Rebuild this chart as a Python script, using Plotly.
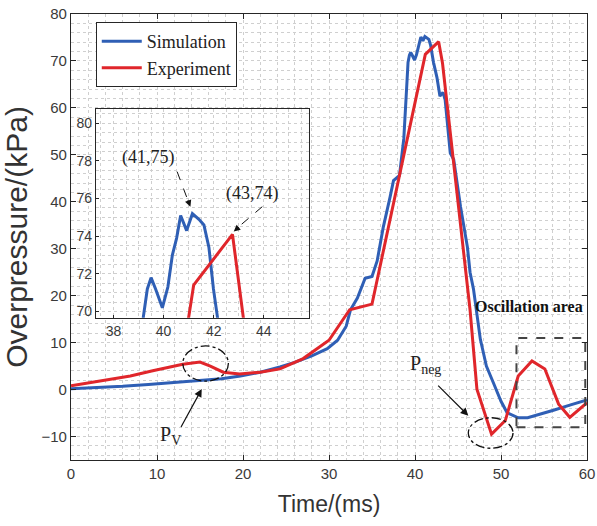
import plotly.graph_objects as go

# ---------------- data ----------------
sim_t = [0, 3, 6, 9, 12, 15.3, 17.5, 19.7, 22, 24.3, 26, 28, 29.8, 31, 32, 32.5, 33.3,
         34.2, 35, 35.6, 36.3, 37.1, 37.5, 38.2, 38.7, 39.05, 39.19, 39.35, 39.5, 39.68,
         39.95, 40.17, 40.35, 40.52, 40.68, 40.92, 41.15, 41.41, 41.61, 41.81, 41.99,
         42.15, 42.55, 42.9, 43.25, 43.5, 44.1, 44.5, 45.3, 46.1, 46.4, 46.8, 47.6, 48.3,
         49.1, 50, 50.7, 52, 53.1, 54.5, 56.1, 58, 60]
sim_p = [0.2, 0.4, 0.7, 1.1, 1.5, 1.9, 2.3, 2.9, 3.7, 4.8, 5.8, 7.2, 8.7, 10.5, 13.5, 17,
         19.5, 23.7, 24.1, 27.4, 34.5, 41, 44.5, 45.6, 53.5, 65, 69.7, 71.2, 71.8, 71.2,
         70.2, 71.3, 73, 73.9, 75.1, 74.3, 75.2, 74.9, 74.6, 73.4, 71.2, 69.7, 66.5, 62.5,
         63.3, 61.8, 50.4, 49, 38.9, 30.3, 25, 21.4, 10.7, 5, 1.5, -2.5, -4.9, -6, -6,
         -5.3, -4.4, -3.3, -2.2]

exp_t = [0, 3, 6.9, 9.5, 13.0, 15.0, 16.2, 17.7, 19.6, 22, 24.3, 27, 30, 32.4, 35.0,
         41.2, 42.75, 43.2, 46.4, 47.2, 48.9, 50.5, 52.0, 53.6, 55.1, 56.7, 58.0, 60]
exp_p = [0.8, 1.7, 2.9, 4.0, 5.4, 5.85, 5.0, 3.7, 3.3, 3.7, 4.4, 6.6, 10.5, 17.0, 18.2,
         71.4, 74.1, 69.5, 17, 0.1, -9.5, -6.6, 2.9, 6.1, 4.4, -3.1, -5.9, -2.8]

x_ticks = [0, 10, 20, 30, 40, 50, 60]
y_ticks = [-10, 0, 10, 20, 30, 40, 50, 60, 70, 80]
inset_x_ticks = [38, 40, 42, 44]
inset_y_ticks = [70, 72, 74, 76, 78, 80]

BLUE = "#2f5fb5"
RED = "#e0262b"
AX = "#262626"
GRID = "#cfcfcf"
SANS = "Liberation Sans, Arial, sans-serif"
SERIF = "Liberation Serif, Times New Roman, serif"

fig = go.Figure()
fig.add_trace(go.Scatter(x=sim_t, y=sim_p, mode="lines", name="Simulation",
                         line=dict(color=BLUE, width=3)))
fig.add_trace(go.Scatter(x=exp_t, y=exp_p, mode="lines", name="Experiment",
                         line=dict(color=RED, width=3)))
# inset copies
fig.add_trace(go.Scatter(x=sim_t, y=sim_p, mode="lines", showlegend=False,
                         line=dict(color=BLUE, width=3), xaxis="x2", yaxis="y2"))
fig.add_trace(go.Scatter(x=exp_t, y=exp_p, mode="lines", showlegend=False,
                         line=dict(color=RED, width=3), xaxis="x2", yaxis="y2"))

axis_common = dict(showline=True, linecolor=AX, linewidth=1.3, mirror="ticks",
                   ticks="inside", ticklen=5, tickcolor=AX, showgrid=True,
                   gridcolor=GRID, griddash="dot", gridwidth=1, zeroline=False,
                   automargin=False,
                   tickfont=dict(family=SANS, size=15, color="#3a3a3a"))

inset_common = dict(showline=True, linecolor=AX, linewidth=1.3, mirror=True,
                    ticks="inside", ticklen=3, tickcolor=AX, showgrid=False, zeroline=False,
                    automargin=False,
                    minor=dict(dtick=0.5, showgrid=True, gridcolor=GRID, griddash="dot", ticks=""),
                    tickfont=dict(family=SANS, size=14, color="#3a3a3a"))

fig.update_layout(
    width=597, height=526,
    margin=dict(l=71, r=10, t=14, b=66),
    paper_bgcolor="white", plot_bgcolor="white",
    xaxis=dict(range=[0, 60], tickvals=x_ticks, domain=[0, 1],
               title=dict(text="Time/(ms)", font=dict(family=SANS, size=23, color="#333333"),
                          standoff=14),
               minor=dict(dtick=2, showgrid=True, gridcolor=GRID, griddash="dot", ticks=""),
               **axis_common),
    yaxis=dict(range=[-15, 80], tickvals=y_ticks, domain=[0, 1],
               title=dict(text="Overpressure/(kPa)", font=dict(family=SANS, size=30, color="#333333"),
                          standoff=4),
               minor=dict(dtick=2, showgrid=True, gridcolor=GRID, griddash="dot", ticks=""),
               **axis_common),
    xaxis2=dict(range=[37.3, 45.8], tickvals=inset_x_ticks, domain=[0.0484, 0.461],
                anchor="y2", **inset_common),
    yaxis2=dict(range=[69.67, 80.76], tickvals=inset_y_ticks, domain=[0.319, 0.787],
                anchor="x2", **inset_common),
    legend=dict(x=0.048, y=0.982, xanchor="left", yanchor="top",
                bgcolor="white", bordercolor=AX, borderwidth=1,
                font=dict(family=SERIF, size=18, color="#222222"),
                itemwidth=40, tracegroupgap=0),
    showlegend=True,
)

shapes = []
# dash-dot ellipses
shapes.append(dict(type="circle", xref="x", yref="y", x0=13.0, x1=18.3, y0=1.8, y1=9.3,
                   line=dict(color="#111111", width=1.3, dash="dashdot")))
shapes.append(dict(type="circle", xref="x", yref="y", x0=46.2, x1=51.4, y0=-12.5, y1=-6.0,
                   line=dict(color="#111111", width=1.3, dash="dashdot")))
# oscillation area box
shapes.append(dict(type="rect", xref="x", yref="y", x0=51.8, x1=59.8, y0=-8.0, y1=11.0,
                   line=dict(color="#444444", width=2, dash="dash")))
# dashed arrow shafts in inset
shapes.append(dict(type="line", xref="x2", yref="y2", x0=40.54, y0=77.43, x1=41.0, y1=75.8,
                   line=dict(color="#111111", width=1, dash="dash")))
shapes.append(dict(type="line", xref="x2", yref="y2", x0=43.94, y0=75.57, x1=42.95, y1=74.45,
                   line=dict(color="#111111", width=1, dash="dash")))
fig.update_layout(shapes=shapes)

ann = []
ann.append(dict(x=39.4, y=78.2, xref="x2", yref="y2", text="(41,75)", showarrow=False,
                font=dict(family=SERIF, size=18, color="#222222")))
ann.append(dict(x=43.54, y=76.28, xref="x2", yref="y2", text="(43,74)", showarrow=False,
                font=dict(family=SERIF, size=18, color="#222222")))
ann.append(dict(x=41.07, y=75.57, xref="x2", yref="y2", text="", showarrow=True,
                ax=-3, ay=-8, arrowhead=2, arrowsize=1.3, arrowwidth=1, arrowcolor="#111111"))
ann.append(dict(x=42.8, y=74.25, xref="x2", yref="y2", text="", showarrow=True,
                ax=6.5, ay=-5.5, arrowhead=2, arrowsize=1.3, arrowwidth=1, arrowcolor="#111111"))
ann.append(dict(x=11.6, y=-9.8, xref="x", yref="y", text="P<sub>V</sub>", showarrow=False,
                font=dict(family=SERIF, size=20, color="#222222")))
ann.append(dict(x=15.2, y=0.1, xref="x", yref="y", ax=12.7, ay=-8.3, axref="x", ayref="y",
                text="", showarrow=True, arrowhead=2, arrowsize=1.3, arrowwidth=1.2,
                arrowcolor="#111111"))
ann.append(dict(x=41.26, y=5.26, xref="x", yref="y", text="P<sub>neg</sub>", showarrow=False,
                font=dict(family=SERIF, size=20, color="#222222")))
ann.append(dict(x=46.2, y=-5.57, xref="x", yref="y", ax=42.52, ay=1.17, axref="x", ayref="y",
                text="", showarrow=True, arrowhead=2, arrowsize=1.3, arrowwidth=1.2,
                arrowcolor="#111111"))
ann.append(dict(x=59.8, y=17.8, xref="x", yref="y", xanchor="right",
                text="<b>Oscillation area</b>", showarrow=False,
                font=dict(family=SERIF, size=16, color="#111111")))
fig.update_layout(annotations=ann)

fig.write_html("out.html")
